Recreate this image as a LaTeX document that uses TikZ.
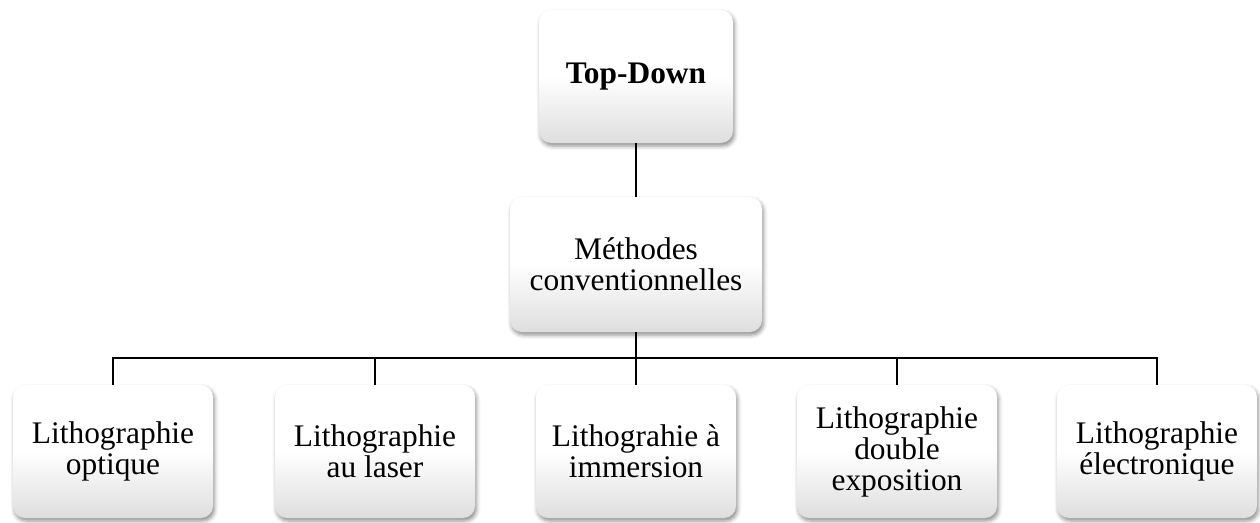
\documentclass[tikz,border=0pt]{standalone}
\usepackage{fontspec}
\setmainfont{Liberation Serif}
\usetikzlibrary{shadows.blur}
\begin{document}
\begin{tikzpicture}[x=1pt,y=-1pt,
  box/.style={rounded corners=12pt, align=center, inner sep=2pt,
    top color=white, bottom color=black!13, middle color=white,
    blur shadow={shadow xshift=1.5pt, shadow yshift=-3pt, shadow blur radius=4pt, shadow opacity=45},
    font=\fontsize{31.4}{31}\selectfont, text=black},
  link/.style={draw=black, line width=2pt}]
\useasboundingbox (0,0) rectangle (1260,522);
\node[box, minimum width=194pt, minimum height=133pt] (top) at (636,76.5) {\textbf{Top-Down}};
\node[box, minimum width=252pt, minimum height=135pt] (mid) at (636,264.5) {Méthodes\\conventionnelles};
\node[box, minimum width=200pt, minimum height=133pt] (b1) at (113,451.5) {Lithographie\\optique};
\node[box, minimum width=200pt, minimum height=133pt] (b2) at (375,451.5) {Lithographie\\au laser};
\node[box, minimum width=200pt, minimum height=133pt] (b3) at (636,451.5) {Lithograhie à\\immersion};
\node[box, minimum width=200pt, minimum height=133pt] (b4) at (897,451.5) {Lithographie\\double\\exposition};
\node[box, minimum width=200pt, minimum height=133pt] (b5) at (1157,451.5) {Lithographie\\électronique};
\coordinate (bus) at (636,358);
\draw[link] (top.south) -- (mid.north);
\draw[link] (mid.south) -- (bus);
\draw[link] (b1.north) |- (bus) -| (b5.north);
\draw[link] (b2.north) -- (b2.north |- bus);
\draw[link] (b3.north) -- (bus);
\draw[link] (b4.north) -- (b4.north |- bus);
\end{tikzpicture}
\end{document}
